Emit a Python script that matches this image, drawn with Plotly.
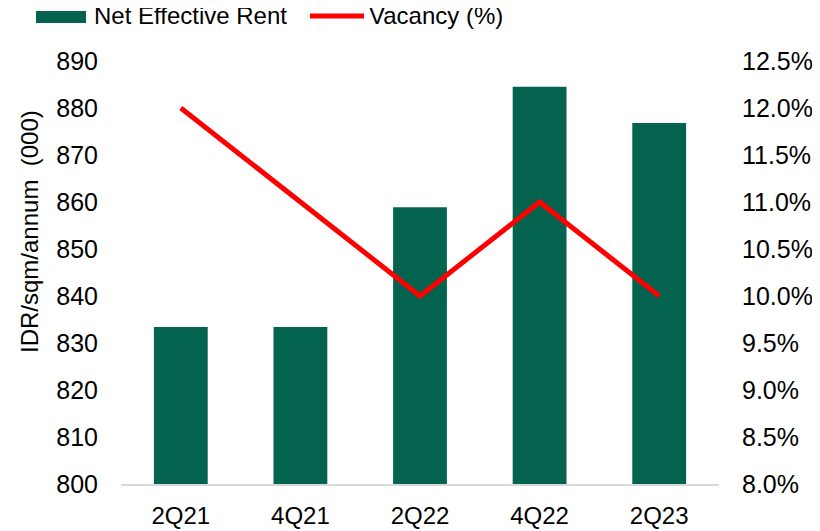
import plotly.graph_objects as go

categories = ["2Q21", "4Q21", "2Q22", "4Q22", "2Q23"]
net_effective_rent = [833.4, 833.4, 858.9, 884.5, 876.8]
vacancy_pct = [12.0, 11.0, 10.0, 11.0, 10.0]
left_ticks = [800, 810, 820, 830, 840, 850, 860, 870, 880, 890]
right_ticks = [8.0, 8.5, 9.0, 9.5, 10.0, 10.5, 11.0, 11.5, 12.0, 12.5]

W, H = 820, 531
OFF = 8  # page body margin
L, T = 121 - OFF, 61 - OFF
PW, PH = 598, 423
R = W - L - PW
B = H - T - PH
FONT = "Liberation Sans, Arial, sans-serif"
GREEN = "#03634F"
RED = "#FF0000"


def px_x(x):
    return (x - OFF - L) / PW


def px_y(y):
    return (H - B - (y - OFF)) / PH


fig = go.Figure()
fig.add_trace(go.Bar(
    x=categories, y=net_effective_rent, name="Net Effective Rent",
    marker=dict(color=GREEN, line=dict(width=0)), width=0.45, showlegend=False,
))
fig.add_trace(go.Scatter(
    x=categories, y=vacancy_pct, name="Vacancy (%)", yaxis="y2",
    mode="lines", line=dict(color=RED, width=5), showlegend=False,
))

shapes = [
    dict(type="rect", xref="paper", yref="paper",
         x0=px_x(36), x1=px_x(86), y0=px_y(23), y1=px_y(11),
         fillcolor=GREEN, line=dict(width=0)),
    dict(type="line", xref="paper", yref="paper",
         x0=px_x(310), x1=px_x(364), y0=px_y(16), y1=px_y(16),
         line=dict(color=RED, width=5)),
]
annotations = [
    dict(text="Net Effective Rent", xref="paper", yref="paper", x=px_x(92), y=px_y(16),
         xanchor="left", yanchor="middle", showarrow=False,
         font=dict(family=FONT, size=24, color="#000000")),
    dict(text="Vacancy (%)", xref="paper", yref="paper", x=px_x(367), y=px_y(16),
         xanchor="left", yanchor="middle", showarrow=False,
         font=dict(family=FONT, size=24, color="#000000")),
    dict(text="IDR/sqm/annum  (000)", xref="paper", yref="paper", x=px_x(29), y=px_y(232),
         xanchor="center", yanchor="middle", textangle=-90, showarrow=False,
         font=dict(family=FONT, size=24, color="#000000")),
]

fig.update_layout(
    width=W, height=H,
    margin=dict(l=L, r=R, t=T, b=B, pad=0, autoexpand=False),
    paper_bgcolor="white", plot_bgcolor="white",
    font=dict(family=FONT, size=24, color="#000000"),
    shapes=shapes, annotations=annotations,
    xaxis=dict(
        type="category", showgrid=False, zeroline=False, automargin=False,
        showline=True, linecolor="#D9D9D9", linewidth=2,
        ticks="", ticklabelstandoff=9,
        tickfont=dict(family=FONT, size=24),
    ),
    yaxis=dict(
        range=[800, 890], tickvals=left_ticks, showgrid=False, zeroline=False,
        automargin=False, showline=False, ticks="", ticklabelstandoff=22,
        tickfont=dict(family=FONT, size=25),
    ),
    yaxis2=dict(
        range=[8.0, 12.5], tickvals=right_ticks,
        ticktext=[f"{v:.1f}%" for v in right_ticks],
        overlaying="y", side="right", showgrid=False, zeroline=False,
        automargin=False, showline=False, ticks="", ticklabelstandoff=22,
        tickfont=dict(family=FONT, size=25),
    ),
)

fig.write_html("out.html")
